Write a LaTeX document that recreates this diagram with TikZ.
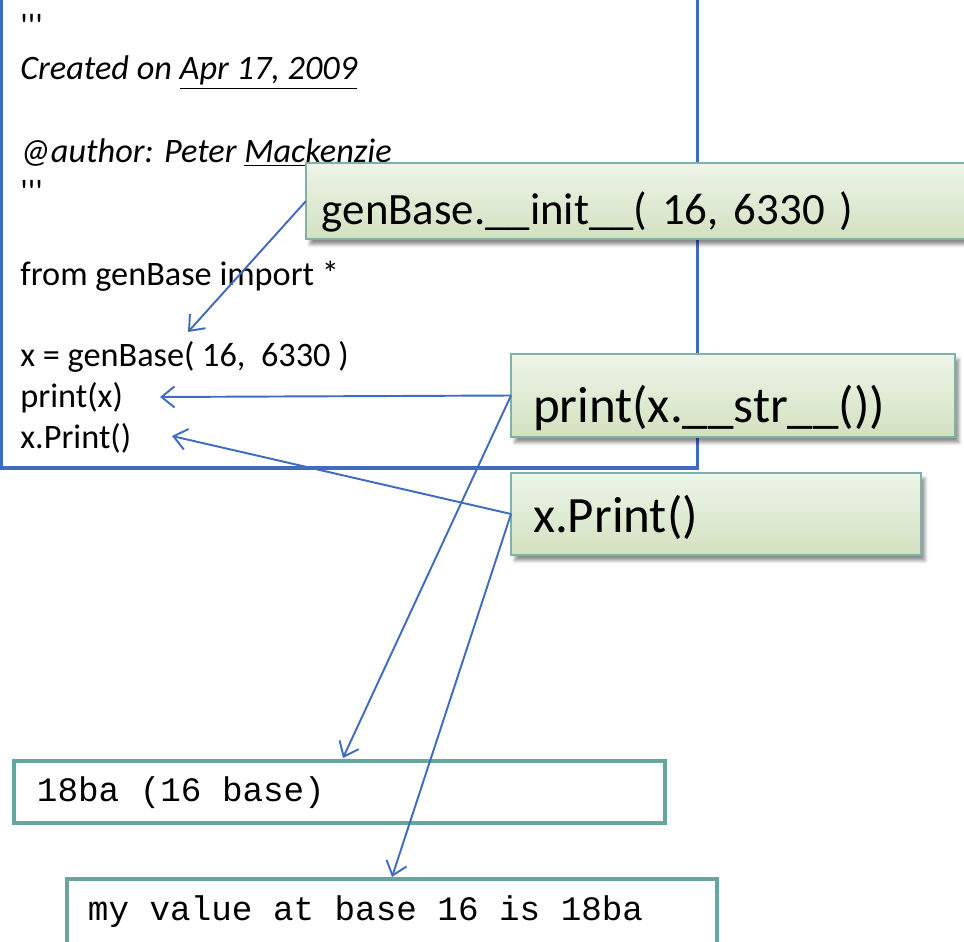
\documentclass[tikz,border=0pt]{standalone}
\usepackage{fontspec}
\setmainfont{Carlito}
\setmonofont{Liberation Mono}
\usetikzlibrary{arrows.meta,shadows.blur}

\definecolor{codeblue}{HTML}{3F6CBF}
\definecolor{calloutedge}{HTML}{7FB2AA}
\definecolor{callouttop}{HTML}{EEF5E9}
\definecolor{calloutbot}{HTML}{D2E1C0}
\definecolor{outedge}{HTML}{66A69E}

% one full character cell of the console font
\newcommand\gap{\hspace*{0.6em}}

\tikzset{
  codebox/.style={draw=codeblue, line width=1.8pt, outer sep=0pt},
  codeline/.style={anchor=base west, inner sep=0pt, font=\fontsize{19.5}{23}\selectfont},
  callout/.style={draw=calloutedge, line width=1pt, top color=callouttop, bottom color=calloutbot,
    anchor=base west, inner ysep=0pt, outer sep=0pt, align=left,
    blur shadow={shadow xshift=0.08cm, shadow yshift=-0.11cm, shadow blur steps=6, shadow opacity=45}},
  outbox/.style={draw=outedge, line width=2.3pt, fill=white, anchor=base west, inner ysep=0pt,
    outer sep=0pt, align=left, font=\ttfamily\fontsize{19.5}{22}\selectfont},
  pointer/.style={draw=codeblue, line width=1.1pt, -{Straight Barb[length=0.26cm,width=0.42cm]}}
}

\begin{document}
\begin{tikzpicture}[x=0.02cm, y=-0.02cm]
  \clip (0,0) rectangle (964,942);

  % the script
  \node[codebox, anchor=south west, minimum width=13.94cm, minimum height=9.8cm] (code) at (1,468) {};
  \node[codeline] (lquoteA) at (20,38) {\textquotesingle\textquotesingle\textquotesingle};
  \node[codeline] (lcreated) at (20,80) {\itshape Created on \underline{Apr 17, 2009}};
  \node[codeline] (lauthor) at (20,163) {\itshape @author: Peter \underline{Mackenzie}};
  \node[codeline] (lquoteB) at (20,204) {\textquotesingle\textquotesingle\textquotesingle};
  \node[codeline] (limport) at (20,286) {from genBase import *};
  \node[codeline] (lassign) at (20,367) {x = genBase( 16,\ \ 6330 )};
  \node[codeline] (lprint) at (20,408) {print(x)};
  \node[codeline] (lmethod) at (20,449) {x.Print()};

  % what each line calls
  \node[callout, inner xsep=0.32cm, text width=13.36cm, text height=1.24cm, text depth=0.28cm,
    font=\fontsize{25.5}{28}\selectfont] (cinit) at (306,225) {genBase.\_\_init\_\_( 16, 6330 )};
  \node[callout, inner xsep=0.44cm, text width=8cm, text height=1.38cm, text depth=0.28cm,
    font=\fontsize{29}{32}\selectfont] (cstr) at (511,423) {print(x.\_\_str\_\_())};
  \node[callout, inner xsep=0.44cm, text width=7.32cm, text height=1.2cm, text depth=0.44cm,
    font=\fontsize{29}{32}\selectfont] (cprint) at (511,533) {x.Print()};

  % console output
  \node[outbox, inner xsep=0.46cm, text width=12.1cm, text height=0.8cm, text depth=0.44cm] (out1) at (14,801)
    {18ba\gap(16\gap base)};
  \node[outbox, inner xsep=0.42cm, text width=12.16cm, text height=0.82cm, text depth=0.9cm] (out2) at (67,920)
    {my\gap value\gap at\gap base\gap 16\gap is\gap 18ba};

  \coordinate (initTip) at (188,332);
  \coordinate (printTip) at (160,397);
  \coordinate (methodTip) at (172,436);
  \coordinate (out1Tip) at (343,758);
  \coordinate (out2Tip) at (392,877);

  \draw[pointer] (cinit.west) -- (initTip);
  \draw[pointer] (cstr.west) -- (printTip);
  \draw[pointer] (cprint.west) -- (methodTip);
  \draw[pointer] (cstr.west) -- (out1Tip);
  \draw[pointer] (cprint.west) -- (out2Tip);
\end{tikzpicture}
\end{document}
